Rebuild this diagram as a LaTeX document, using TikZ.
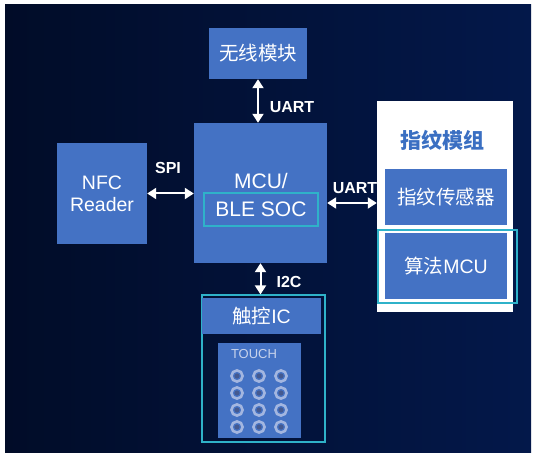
\documentclass[tikz,border=0pt]{standalone}
\usepackage{fontspec}
\setmainfont{Liberation Sans}
\newfontfamily\cjk{Noto Sans CJK SC}
\usetikzlibrary{arrows.meta}
\definecolor{bgL}{HTML}{010C28}
\definecolor{bgR}{HTML}{03184A}
\definecolor{boxblue}{HTML}{4472C4}
\definecolor{cyanline}{HTML}{2FB2C9}
\definecolor{titleblue}{HTML}{3A6FC2}
\definecolor{ringc}{HTML}{A3B6E0}
\definecolor{dotc}{HTML}{5670B4}
\begin{document}
\begin{tikzpicture}[x=1pt,y=-1pt,
	blk/.style={fill=boxblue,inner sep=0pt,text=white,align=center,font=\fontsize{19.5}{22}\selectfont},
	cyanbox/.style={draw=cyanline,line width=1.2pt,inner sep=0pt},
	biarrow/.style={white,line width=2pt,{Triangle[length=9pt,width=11pt]}-{Triangle[length=9pt,width=11pt]}},
	lbl/.style={text=white,font=\fontsize{16}{18}\selectfont\bfseries}]
	% page and dark background
	\useasboundingbox[fill=white] (0,0) rectangle (539,462);
	\shade[left color=bgL,right color=bgR] (5,5) rectangle (531,453);
	% fingerprint module panel
	\node[fill=white,inner sep=0pt,minimum width=136pt,minimum height=211pt] (fpm) at (445,206.5) {};
	\node[text=titleblue,font=\fontsize{21}{22}\selectfont\cjk\bfseries] (fpmtitle) at (442,140) {指纹模组};
	\node[blk,minimum width=122pt,minimum height=56pt,font=\fontsize{19.5}{22}\selectfont\cjk] (sensor) at (446,197) {指纹传感器};
	\node[blk,minimum width=122pt,minimum height=66pt] (algo) at (446,266) {{\cjk 算法}MCU};
	\node[cyanbox,minimum width=139pt,minimum height=73pt] (algoframe) at (447.5,266.5) {};
	% main blocks
	\node[blk,minimum width=98pt,minimum height=51pt,font=\fontsize{19.5}{22}\selectfont\cjk] (wl) at (258,53.5) {无线模块};
	\node[blk,minimum width=133pt,minimum height=140pt] (mcu) at (260.5,193) {};
	\node[text=white,font=\fontsize{21}{22}\selectfont] (mcutxt) at (261,181) {MCU/};
	\node[cyanbox,text=white,minimum width=114pt,minimum height=33pt,font=\fontsize{21}{22}\selectfont] (soc) at (261,209.5) {BLE SOC};
	\node[blk,minimum width=90pt,minimum height=101pt,font=\fontsize{19.5}{22}\selectfont] (nfc) at (102,193.5) {NFC\\Reader};
	% touch part
	\node[cyanbox,minimum width=123pt,minimum height=147pt] (touch) at (263.5,368.5) {};
	\node[blk,minimum width=119pt,minimum height=36pt] (tic) at (261.5,316) {{\cjk 触控}IC};
	\node[fill=boxblue,inner sep=0pt,minimum width=83pt,minimum height=95pt] (pad) at (259.5,390.5) {};
	\node[text=ringc!60!white,font=\fontsize{13}{14}\selectfont] (padtxt) at (254,354) {TOUCH};
	\foreach \x in {237,259,281}
		\foreach \y in {376,393,410,427}{
			\draw[ringc,line width=2.6pt] (\x,\y) circle (5.6pt);
			\fill[dotc!80!black] (\x,\y) circle (2.6pt);
		}
	% buses
	\coordinate (uartR) at ([yshift=-10pt]mcu.east);
	\draw[biarrow] (wl.south) -- (wl.south |- mcu.north);
	\draw[biarrow] (nfc.east) -- (nfc.east -| mcu.west);
	\draw[biarrow] (uartR) -- (uartR -| fpm.west);
	\draw[biarrow] (mcu.south) -- (mcu.south |- touch.north);
	\node[lbl] (uart1) at (292,107) {UART};
	\node[lbl] (spi) at (168,168) {SPI};
	\node[lbl] (uart2) at (355,188) {UART};
	\node[lbl] (i2c) at (289,282) {I2C};
\end{tikzpicture}
\end{document}
